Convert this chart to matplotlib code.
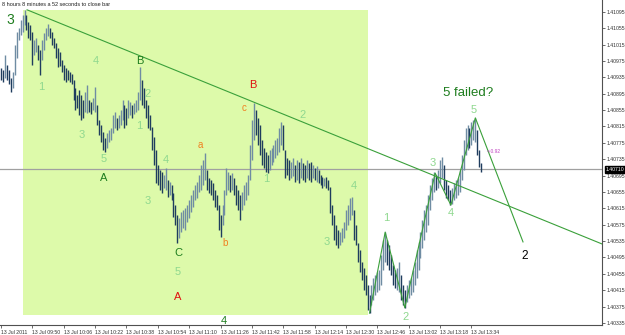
import matplotlib
matplotlib.use('Agg')
import matplotlib.pyplot as plt
from matplotlib.patches import Rectangle

# ---------------- data (M1 bars, 13 Jul 2011 from 09:34) ----------------
highs = [1.40958, 1.40953, 1.40990, 1.40965, 1.40953, 1.40934, 1.40948, 1.41014, 1.41046, 1.41056,
         1.41075, 1.41088, 1.41100, 1.41088, 1.41071, 1.41063, 1.41046, 1.41027, 1.41031, 1.41014,
         1.41002, 1.41027, 1.41044, 1.41056, 1.41066, 1.41056, 1.41046, 1.41031, 1.41019, 1.41007,
         1.40997, 1.40978, 1.40965, 1.40958, 1.40953, 1.40948, 1.40943, 1.40929, 1.40909, 1.40892,
         1.40904, 1.40892, 1.40880, 1.40899, 1.40917, 1.40880, 1.40875, 1.40885, 1.40912, 1.40868,
         1.40831, 1.40819, 1.40802, 1.40787, 1.40799, 1.40807, 1.40812, 1.40843, 1.40851, 1.40836,
         1.40843, 1.40855, 1.40880, 1.40868, 1.40860, 1.40880, 1.40875, 1.40868, 1.40873, 1.40880,
         1.40899, 1.40961, 1.40929, 1.40909, 1.40880, 1.40868, 1.40843, 1.40814, 1.40790, 1.40758,
         1.40721, 1.40709, 1.40704, 1.40697, 1.40714, 1.40684, 1.40679, 1.40672, 1.40653, 1.40623,
         1.40599, 1.40592, 1.40606, 1.40611, 1.40616, 1.40623, 1.40636, 1.40648, 1.40660, 1.40672,
         1.40679, 1.40697, 1.40721, 1.40733, 1.40750, 1.40709, 1.40689, 1.40684, 1.40677, 1.40660,
         1.40648, 1.40623, 1.40599, 1.40623, 1.40660, 1.40714, 1.40704, 1.40697, 1.40701, 1.40689,
         1.40672, 1.40660, 1.40648, 1.40655, 1.40672, 1.40679, 1.40697, 1.40770, 1.40831, 1.40873,
         1.40855, 1.40836, 1.40819, 1.40782, 1.40763, 1.40753, 1.40746, 1.40758, 1.40763, 1.40770,
         1.40782, 1.40787, 1.40812, 1.40826, 1.40819, 1.40758, 1.40738, 1.40733, 1.40728, 1.40738,
         1.40721, 1.40733, 1.40728, 1.40738, 1.40726, 1.40721, 1.40733, 1.40726, 1.40728, 1.40721,
         1.40714, 1.40719, 1.40709, 1.40697, 1.40692, 1.40689, 1.40692, 1.40684, 1.40667, 1.40623,
         1.40599, 1.40574, 1.40562, 1.40557, 1.40567, 1.40582, 1.40611, 1.40623, 1.40640, 1.40643,
         1.40611, 1.40574, 1.40530, 1.40513, 1.40484, 1.40469, 1.40452, 1.40428, 1.40403, 1.40428,
         1.40445, 1.40452, 1.40460, 1.40464, 1.40501, 1.40538, 1.40557, 1.40538, 1.40526, 1.40501,
         1.40477, 1.40464, 1.40469, 1.40484, 1.40452, 1.40428, 1.40416, 1.40428, 1.40440, 1.40445,
         1.40464, 1.40484, 1.40513, 1.40533, 1.40557, 1.40587, 1.40611, 1.40623, 1.40648, 1.40672,
         1.40689, 1.40704, 1.40697, 1.40709, 1.40733, 1.40741, 1.40721, 1.40684, 1.40672, 1.40660,
         1.40665, 1.40677, 1.40684, 1.40689, 1.40709, 1.40746, 1.40782, 1.40812, 1.40819, 1.40812,
         1.40826, 1.40831, 1.40836, 1.40807, 1.40758, 1.40726]

lows = [1.40929, 1.40924, 1.40934, 1.40929, 1.40919, 1.40899, 1.40909, 1.40941, 1.40983, 1.41027,
        1.41039, 1.41046, 1.41063, 1.41051, 1.41031, 1.41027, 1.40965, 1.40990, 1.40997, 1.40978,
        1.40941, 1.40978, 1.41002, 1.41027, 1.41036, 1.41031, 1.41014, 1.41007, 1.40983, 1.40961,
        1.40963, 1.40948, 1.40929, 1.40924, 1.40929, 1.40924, 1.40919, 1.40880, 1.40855, 1.40860,
        1.40843, 1.40831, 1.40836, 1.40851, 1.40848, 1.40851, 1.40846, 1.40855, 1.40851, 1.40819,
        1.40795, 1.40777, 1.40758, 1.40753, 1.40763, 1.40777, 1.40782, 1.40799, 1.40812, 1.40807,
        1.40812, 1.40819, 1.40831, 1.40812, 1.40819, 1.40836, 1.40843, 1.40836, 1.40846, 1.40851,
        1.40855, 1.40880, 1.40868, 1.40860, 1.40836, 1.40812, 1.40807, 1.40758, 1.40721, 1.40677,
        1.40672, 1.40660, 1.40653, 1.40665, 1.40660, 1.40643, 1.40648, 1.40636, 1.40594, 1.40574,
        1.40530, 1.40543, 1.40557, 1.40567, 1.40562, 1.40582, 1.40592, 1.40606, 1.40618, 1.40636,
        1.40640, 1.40655, 1.40660, 1.40672, 1.40684, 1.40660, 1.40653, 1.40648, 1.40636, 1.40618,
        1.40611, 1.40562, 1.40545, 1.40574, 1.40599, 1.40648, 1.40660, 1.40655, 1.40660, 1.40648,
        1.40623, 1.40611, 1.40587, 1.40611, 1.40623, 1.40636, 1.40648, 1.40684, 1.40733, 1.40782,
        1.40795, 1.40770, 1.40746, 1.40721, 1.40714, 1.40704, 1.40701, 1.40709, 1.40721, 1.40728,
        1.40738, 1.40746, 1.40753, 1.40770, 1.40758, 1.40689, 1.40697, 1.40684, 1.40689, 1.40694,
        1.40679, 1.40684, 1.40677, 1.40689, 1.40684, 1.40679, 1.40689, 1.40684, 1.40679, 1.40689,
        1.40684, 1.40679, 1.40677, 1.40672, 1.40665, 1.40670, 1.40665, 1.40660, 1.40604, 1.40574,
        1.40538, 1.40526, 1.40518, 1.40526, 1.40533, 1.40543, 1.40562, 1.40574, 1.40587, 1.40599,
        1.40538, 1.40526, 1.40484, 1.40460, 1.40440, 1.40416, 1.40403, 1.40367, 1.40359, 1.40379,
        1.40391, 1.40403, 1.40411, 1.40416, 1.40428, 1.40464, 1.40484, 1.40477, 1.40464, 1.40452,
        1.40428, 1.40420, 1.40416, 1.40411, 1.40391, 1.40379, 1.40372, 1.40386, 1.40396, 1.40403,
        1.40411, 1.40428, 1.40445, 1.40464, 1.40494, 1.40518, 1.40538, 1.40557, 1.40574, 1.40611,
        1.40636, 1.40655, 1.40660, 1.40665, 1.40677, 1.40689, 1.40660, 1.40640, 1.40636, 1.40623,
        1.40626, 1.40636, 1.40640, 1.40648, 1.40655, 1.40684, 1.40709, 1.40746, 1.40758, 1.40763,
        1.40770, 1.40782, 1.40777, 1.40746, 1.40716, 1.40704]

time_ticks = ["13 Jul 2011", "13 Jul 09:50", "13 Jul 10:06", "13 Jul 10:22", "13 Jul 10:38",
              "13 Jul 10:54", "13 Jul 11:10", "13 Jul 11:26", "13 Jul 11:42", "13 Jul 11:58",
              "13 Jul 12:14", "13 Jul 12:30", "13 Jul 12:46", "13 Jul 13:02", "13 Jul 13:18",
              "13 Jul 13:34"]
time_tick_bars = [0, 16, 32, 48, 64, 80, 96, 112, 128, 144, 160, 176, 192, 208, 224, 240]
price_ticks = [1.41095, 1.41055, 1.41015, 1.40975, 1.40935, 1.40895, 1.40855, 1.40815, 1.40775,
               1.40735, 1.40695, 1.40655, 1.40615, 1.40575, 1.40535, 1.40495, 1.40455, 1.40415,
               1.40375, 1.40335]
current_price = 1.40710

# highlighted zone (bar index range, price range)
zone_bars = [11.2, 187.3]
zone_prices = [1.40354, 1.41100]

# trend line (bar index, price)
trend_bars = [13.3, 306.6]
trend_prices = [1.41100, 1.40528]

# wave count polyline
wave_bars = [188, 196, 206, 221.5, 229.5, 242, 266.3]
wave_prices = [1.40359, 1.40557, 1.40372, 1.40701, 1.40623, 1.40836, 1.40533]

# labels: text, bar index, price, style
labels = [
    ("3", 4.6, 1.41075, "big"), ("1", 20.4, 1.40912, "lt"), ("4", 48.5, 1.40975, "lt"),
    ("B", 70.9, 1.40975, "dk"), ("2", 75.0, 1.40895, "lt"), ("1", 70.4, 1.40816, "lt"),
    ("3", 41.3, 1.40795, "lt"), ("5", 52.6, 1.40736, "lt"), ("A", 52.6, 1.40689, "dk"),
    ("4", 84.2, 1.40733, "lt"), ("3", 75.0, 1.40633, "lt"), ("C", 90.3, 1.40506, "dk"),
    ("5", 90.3, 1.40460, "lt"), ("A", 90.3, 1.40398, "red"), ("4", 113.8, 1.40340, "dk"),
    ("a", 101.5, 1.40770, "or"), ("b", 114.3, 1.40530, "or"), ("c", 124.0, 1.40860, "or"),
    ("B", 128.6, 1.40917, "red"), ("2", 153.6, 1.40843, "lt"), ("1", 135.2, 1.40687, "lt"),
    ("4", 180.1, 1.40670, "lt"), ("3", 166.3, 1.40533, "lt"), ("1", 196.4, 1.40592, "lt"),
    ("2", 206.6, 1.40350, "lt"), ("3", 220.4, 1.40726, "lt"), ("4", 229.6, 1.40604, "lt"),
    ("5", 241.3, 1.40855, "lt"), ("5 failed?", 238.3, 1.40897, "big2"),
    ("2", 267.3, 1.40499, "blk"), ("<-0.92", 251.5, 1.40753, "pk"),
]

styles = {
    "big": dict(color="#1e7d1e", fontsize=10),
    "big2": dict(color="#1e7d1e", fontsize=9.5),
    "dk": dict(color="#1e7d1e", fontsize=8),
    "lt": dict(color="#8fd88f", fontsize=8),
    "red": dict(color="#e01010", fontsize=8),
    "or": dict(color="#f08020", fontsize=7),
    "blk": dict(color="#000000", fontsize=8.5),
    "pk": dict(color="#c040c0", fontsize=3.5),
}

# ---------------- figure ----------------
W, H = 625, 335
fig = plt.figure(figsize=(W / 100, H / 100), dpi=100)
fig.patch.set_facecolor("white")
ax = fig.add_axes([0, 1 - 325 / H, 602 / W, 325 / H])
ax.set_facecolor("white")

n = len(highs)
idx = list(range(n))

ax.add_patch(Rectangle((zone_bars[0], zone_prices[0]), zone_bars[1] - zone_bars[0],
                       zone_prices[1] - zone_prices[0], facecolor="#ddfaaa",
                       edgecolor="none", zorder=0))

ax.axhline(current_price, color="#a0a0a0", lw=0.9, zorder=1)

mids = [(h + l) / 2 for h, l in zip(highs, lows)]
cols = []
for i in range(n):
    if i > 0 and mids[i] >= mids[i - 1]:
        cols.append("#6f8ca3")
    else:
        cols.append("#1f3d5e")
ax.vlines(idx, lows, highs, colors=cols, linewidth=1.0, zorder=3)

ax.plot(trend_bars, trend_prices, color="#3aa03a", lw=0.8, zorder=4)
ax.plot(wave_bars, wave_prices, color="#3aa03a", lw=0.8, zorder=4)

for txt, bx, py, st in labels:
    ax.text(bx, py, txt, ha="center", va="center", family="Liberation Sans",
            clip_on=False, zorder=5, **styles[st])

ax.set_xlim(-0.51, 306.6)
ax.set_ylim(1.40330, 1.41124)

for s in ["left", "top"]:
    ax.spines[s].set_visible(False)
for s in ["right", "bottom"]:
    ax.spines[s].set_color("#505050")
    ax.spines[s].set_linewidth(0.8)

tick_font = dict(family="Liberation Sans", size=3.7)
ax.yaxis.tick_right()
ax.set_yticks(price_ticks)
ax.set_yticklabels([f"{p:.5f}" for p in price_ticks], fontdict=tick_font)
ax.tick_params(axis="y", length=2, width=0.5, pad=1.2, colors="#303030")
ax.set_xticks(time_tick_bars)
ax.set_xticklabels(time_ticks, ha="left", fontdict=tick_font)
ax.tick_params(axis="x", length=2, width=0.5, pad=1.5, colors="#303030")

# current price marker
ax.text(1.006, current_price, f"{current_price:.5f}", transform=ax.get_yaxis_transform(),
        ha="left", va="center", color="white", clip_on=False,
        bbox=dict(boxstyle="square,pad=0.15", fc="black", ec="black"), **tick_font)

fig.text(2 / W, 1 - 5 / H, "8 hours 8 minutes a 52 seconds to close bar",
         ha="left", va="center", fontsize=4.0, family="Liberation Sans", color="#202020")

fig.savefig("out.png", dpi=100)
